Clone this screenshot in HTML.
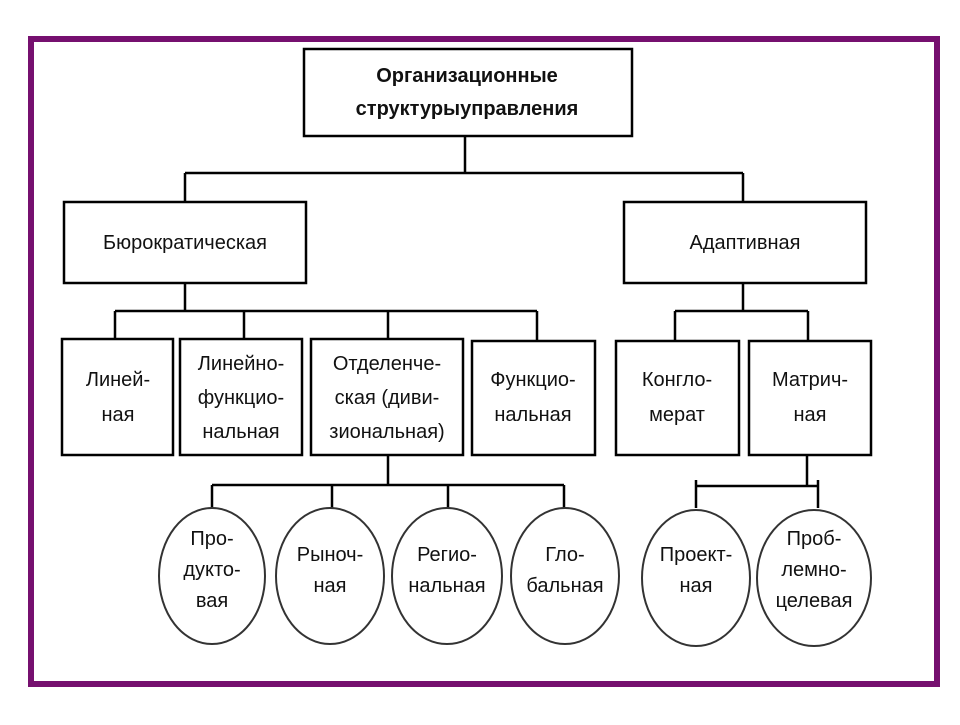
<!DOCTYPE html>
<html><head><meta charset="utf-8"><style>
body{margin:0;background:#fff}
svg text{font-family:"Liberation Sans","DejaVu Sans",sans-serif;font-size:20px;fill:#111;text-anchor:middle}
</style></head><body>
<svg width="960" height="720" viewBox="0 0 960 720" xmlns="http://www.w3.org/2000/svg">
<rect x="0" y="0" width="960" height="720" fill="#fff"/>
<rect x="31" y="39" width="906" height="645" fill="none" stroke="#76106f" stroke-width="6"/>
<g fill="none" stroke="#000" stroke-width="2.5">
<rect x="304" y="49" width="328" height="87"/>
<rect x="64" y="202" width="242" height="81"/>
<rect x="624" y="202" width="242" height="81"/>
<rect x="62" y="339" width="111" height="116"/>
<rect x="180" y="339" width="122" height="116"/>
<rect x="311" y="339" width="152" height="116"/>
<rect x="472" y="341" width="123" height="114"/>
<rect x="616" y="341" width="123" height="114"/>
<rect x="749" y="341" width="122" height="114"/>
<path d="M465 136V173M185 173H743M185 173V202M743 173V202"/>
<path d="M185 283V311M115 311H537M115 311V339M244 311V339M388 311V339M537 311V341"/>
<path d="M743 283V311M675 311H808M675 311V341M808 311V341"/>
<path d="M388 455V485M212 485H564M212 485V508M332 485V508M448 485V508M564 485V508"/>
<path d="M807 455V486M696 486H818M696 480V508M818 480V508"/>
</g>
<g fill="none" stroke="#333" stroke-width="2">
<ellipse cx="212" cy="576" rx="53" ry="68"/>
<ellipse cx="330" cy="576" rx="54" ry="68"/>
<ellipse cx="447" cy="576" rx="55" ry="68"/>
<ellipse cx="565" cy="576" rx="54" ry="68"/>
<ellipse cx="696" cy="578" rx="54" ry="68"/>
<ellipse cx="814" cy="578" rx="57" ry="68"/>
</g>
<g>
<text x="467" y="82" style="font-weight:bold;font-size:20px">Организационные</text>
<text x="467" y="115" style="font-weight:bold;font-size:20px">структурыуправления</text>
<text x="185" y="249">Бюрократическая</text>
<text x="745" y="249">Адаптивная</text>
<text x="118" y="386">Линей-</text><text x="118" y="421">ная</text>
<text x="241" y="370">Линейно-</text><text x="241" y="404">функцио-</text><text x="241" y="438">нальная</text>
<text x="387" y="370">Отделенче-</text><text x="387" y="404">ская (диви-</text><text x="387" y="438">зиональная)</text>
<text x="533" y="386">Функцио-</text><text x="533" y="421">нальная</text>
<text x="677" y="386">Конгло-</text><text x="677" y="421">мерат</text>
<text x="810" y="386">Матрич-</text><text x="810" y="421">ная</text>
<text x="212" y="545">Про-</text><text x="212" y="576">дукто-</text><text x="212" y="607">вая</text>
<text x="330" y="561">Рыноч-</text><text x="330" y="592">ная</text>
<text x="447" y="561">Регио-</text><text x="447" y="592">нальная</text>
<text x="565" y="561">Гло-</text><text x="565" y="592">бальная</text>
<text x="696" y="561">Проект-</text><text x="696" y="592">ная</text>
<text x="814" y="545">Проб-</text><text x="814" y="576">лемно-</text><text x="814" y="607">целевая</text>
</g>
</svg>
</body></html>
